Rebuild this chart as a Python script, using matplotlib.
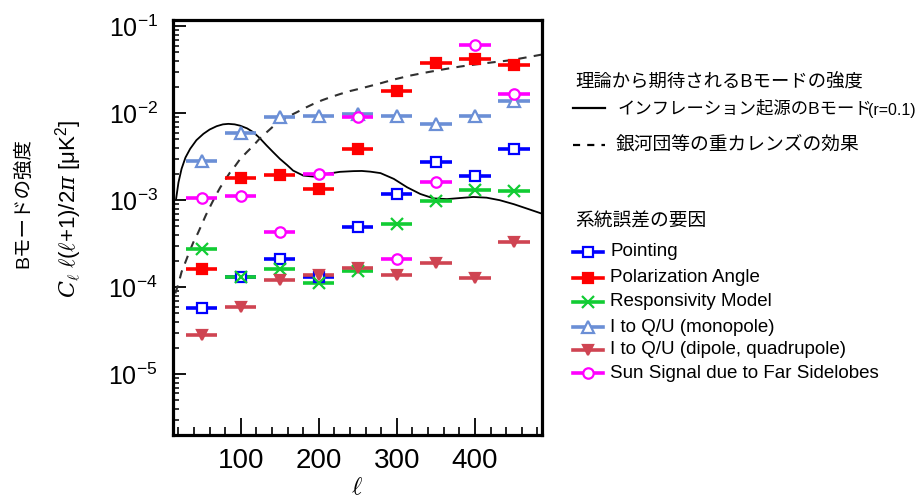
import matplotlib
matplotlib.use("Agg")
import matplotlib.pyplot as plt
from matplotlib.lines import Line2D
from matplotlib.ticker import MultipleLocator, LogLocator, NullFormatter

plt.rcParams['font.family'] = ['Liberation Sans', 'Noto Sans CJK JP', 'DejaVu Sans']
plt.rcParams['mathtext.fontset'] = 'custom'
plt.rcParams['mathtext.rm'] = 'Liberation Sans'
plt.rcParams['mathtext.it'] = 'DejaVu Serif:italic'
plt.rcParams['mathtext.bf'] = 'Liberation Sans:bold'

# ---------------- data ----------------
ell_bins = [50, 100, 150, 200, 250, 300, 350, 400, 450]
bin_halfwidth = 20

pointing = [5.8e-5, 1.32e-4, 2.1e-4, 1.3e-4, 4.95e-4, 1.17e-3, 2.77e-3, 1.92e-3, 3.91e-3]
pol_angle = [1.61e-4, 1.79e-3, 1.96e-3, 1.36e-3, 3.88e-3, 1.81e-2, 3.76e-2, 4.18e-2, 3.63e-2]
responsivity = [2.72e-4, 1.3e-4, 1.62e-4, 1.13e-4, 1.52e-4, 5.3e-4, 9.7e-4, 1.31e-3, 1.28e-3]
i2qu_mono = [2.84e-3, 5.93e-3, 9.0e-3, 9.4e-3, 9.8e-3, 9.4e-3, 7.55e-3, 9.2e-3, 1.37e-2]
i2qu_dipole = [2.84e-5, 5.9e-5, 1.21e-4, 1.4e-4, 1.66e-4, 1.37e-4, 1.92e-4, 1.28e-4, 3.33e-4]
sun_signal = [1.07e-3, 1.12e-3, 4.26e-4, 2.01e-3, 9.0e-3, 2.09e-4, 1.64e-3, 6.1e-2, 1.65e-2]

# inflationary B-mode (r=0.1)
ell_r = [17, 20, 24, 29, 35, 43, 52, 60, 69, 77, 84, 92, 99, 108, 116, 124, 133, 141,
         150, 159, 167, 180, 193, 210, 227, 244, 255, 266, 279, 296, 313, 330, 347, 364,
         381, 398, 415, 432, 450, 467, 484]
bb_r = [1.04e-3, 1.6e-3, 2.3e-3, 3.1e-3, 3.9e-3, 4.9e-3, 5.8e-3, 6.5e-3, 7.1e-3, 7.45e-3,
        7.55e-3, 7.45e-3, 7.2e-3, 6.7e-3, 6.05e-3, 5.2e-3, 4.26e-3, 3.6e-3, 2.99e-3,
        2.55e-3, 2.19e-3, 1.92e-3, 1.87e-3, 2.01e-3, 2.12e-3, 2.16e-3, 2.17e-3, 2.13e-3,
        2.05e-3, 1.76e-3, 1.41e-3, 1.18e-3, 1.05e-3, 1.03e-3, 1.06e-3, 1.09e-3, 1.07e-3,
        1.0e-3, 9.0e-4, 8.0e-4, 7.1e-4]

# lensing B-mode
ell_lens = [16, 20, 24, 29, 34, 39, 45, 50, 55, 61, 67, 73.5, 80, 86, 93, 99, 108, 116,
            124, 133, 141, 150, 161, 172, 183, 193, 204, 215, 227, 240, 253, 266, 279,
            296, 317, 339, 360, 381, 403, 424, 446, 467, 486]
bb_lens = [8.5e-5, 1.1e-4, 1.5e-4, 1.95e-4, 2.55e-4, 3.27e-4, 4.2e-4, 5.3e-4, 6.7e-4,
           8.6e-4, 1.1e-3, 1.4e-3, 1.72e-3, 2.08e-3, 2.5e-3, 2.97e-3, 3.6e-3, 4.24e-3,
           5.1e-3, 6.04e-3, 7.0e-3, 8.0e-3, 9.2e-3, 1.03e-2, 1.16e-2, 1.28e-2, 1.41e-2,
           1.53e-2, 1.66e-2, 1.8e-2, 1.92e-2, 2.06e-2, 2.21e-2, 2.44e-2, 2.71e-2, 2.96e-2,
           3.2e-2, 3.44e-2, 3.66e-2, 3.86e-2, 4.07e-2, 4.4e-2, 4.73e-2]

series_labels = ["Pointing", "Polarization Angle", "Responsivity Model",
                 "I to Q/U (monopole)", "I to Q/U (dipole, quadrupole)",
                 "Sun Signal due to Far Sidelobes"]
series_values = [pointing, pol_angle, responsivity, i2qu_mono, i2qu_dipole, sun_signal]
series_colors = ["#0000ff", "#ff0000", "#11cc33", "#6b8fd6", "#cf4452", "#ff00ff"]
series_markers = ["s", "s", "x", "^", "v", "o"]
series_filled = [False, True, True, False, True, False]

theory_title = "理論から期待されるBモードの強度"
theory_labels = ["インフレーション起源のBモード", "銀河団等の重カレンズの効果"]
theory_suffix = "(r=0.1)"
syst_title = "系統誤差の要因"

# ---------------- figure ----------------
W, H = 921, 499
fig = plt.figure(figsize=(W / 100, H / 100), dpi=100)
fig.patch.set_facecolor("white")


def fx(px):
    return px / W


def fy(py):
    return 1 - py / H


marker_sizes = {"x": 8.5, "^": 8.5, "v": 7, "s": 7.5, "o": 7.5}

ax = fig.add_axes([fx(173), fy(435), fx(542) - fx(173), fy(20) - fy(435)])
ax.set_yscale("log")
ax.set_xlim(13, 486)
ax.set_ylim(2e-6, 0.118)

ax.plot(ell_r, bb_r, color="black", lw=1.3, zorder=2)
ax.plot(ell_lens, bb_lens, color="#303030", lw=1.5, ls=(0, (4, 3.5)), zorder=2)

for vals, col, mk, filled in zip(series_values, series_colors, series_markers, series_filled):
    ax.errorbar(ell_bins, vals, xerr=bin_halfwidth, fmt=mk, color=col,
                mfc=(col if filled else "white"), mec=col, mew=1.6, ms=marker_sizes[mk],
                elinewidth=2.6, capsize=0, zorder=3)

for sp in ax.spines.values():
    sp.set_linewidth(2.3)

ax.xaxis.set_major_locator(MultipleLocator(100))
ax.xaxis.set_minor_locator(MultipleLocator(20))
ax.yaxis.set_major_locator(LogLocator(base=10, numticks=20))
ax.yaxis.set_minor_locator(LogLocator(base=10, subs=[2, 3, 4, 5, 6, 7, 8, 9], numticks=20))
ax.yaxis.set_minor_formatter(NullFormatter())
ax.tick_params(axis="x", which="major", direction="in", length=12, width=1.3,
               labelsize=20, pad=9, top=False)
ax.tick_params(axis="x", which="minor", direction="in", length=6, width=1.2, top=False)
ax.tick_params(axis="y", which="major", direction="in", length=9, width=1.3,
               labelsize=18, pad=11, right=False)
ax.tick_params(axis="y", which="minor", direction="in", length=4.5, width=1.1, right=False)

# axis labels
fig.text(fx(69), fy(209), r"$C_{\ell}$ $\ell$($\ell$+1)/2$\pi$ [μK$^{2}$]",
         rotation=90, ha="center", va="center", fontsize=16)
fig.text(fx(23), fy(203), "Bモードの強度", rotation=90, ha="center", va="center",
         fontsize=14)
fig.text(fx(357), fy(475), r"$\ell$", ha="center", va="top", fontsize=18)

# ---------------- legends ----------------
fig.text(fx(575), fy(82), theory_title, ha="left", va="center", fontsize=13.2)
fig.add_artist(Line2D([fx(573), fx(605)], [fy(108), fy(108)], transform=fig.transFigure,
                      color="black", lw=1.6))
fig.add_artist(Line2D([fx(573), fx(605)], [fy(145), fy(145)], transform=fig.transFigure,
                      color="black", lw=1.6, ls=(0, (3.2, 3.2))))
fig.text(fx(618), fy(108), theory_labels[0], ha="left", va="center", fontsize=12.5)
fig.text(fx(868), fy(111), theory_suffix, ha="left", va="center", fontsize=11.5)
fig.text(fx(616), fy(145), theory_labels[1], ha="left", va="center", fontsize=13.5)

fig.text(fx(575), fy(222), syst_title, ha="left", va="center", fontsize=13.5)
item_y = [252, 278, 302, 327, 350, 373]
for lab, col, mk, filled, py in zip(series_labels, series_colors, series_markers,
                                     series_filled, item_y):
    fig.add_artist(Line2D([fx(573), fx(603)], [fy(py), fy(py)], transform=fig.transFigure,
                          color=col, lw=2.6))
    fig.add_artist(Line2D([fx(588)], [fy(py)], transform=fig.transFigure, marker=mk,
                          color=col, mfc=(col if filled else "white"), mec=col,
                          mew=1.6, ms=marker_sizes[mk], lw=0))
    fig.text(fx(610), fy(py), lab, ha="left", va="center", fontsize=13.5)

fig.savefig("out.png", dpi=100, facecolor="white")
